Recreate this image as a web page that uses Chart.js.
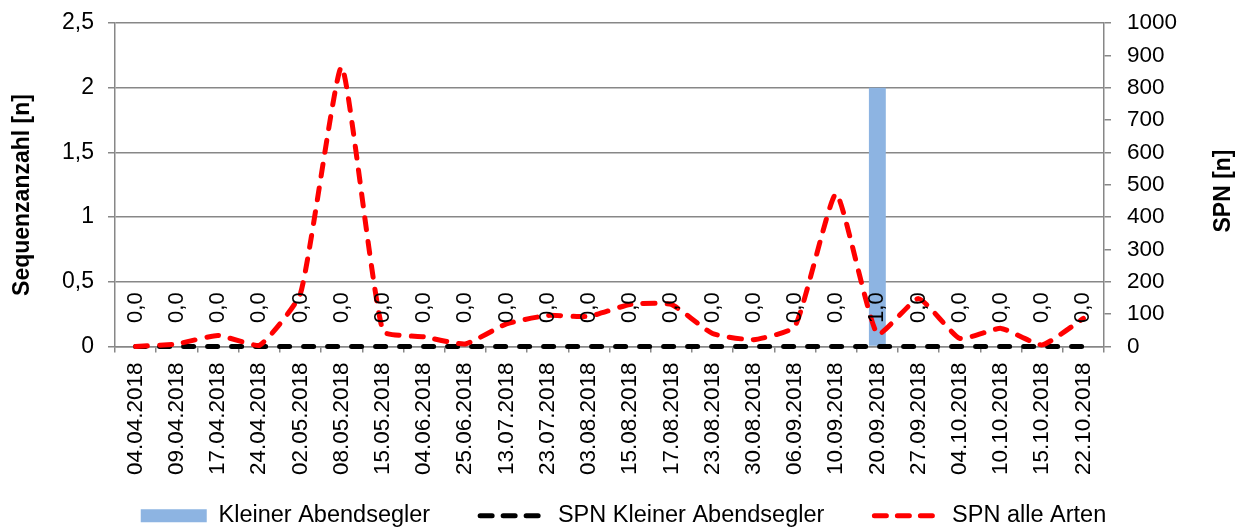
<!DOCTYPE html>
<html>
<head>
<meta charset="utf-8">
<script src="https://cdn.jsdelivr.net/npm/chart.js@4.4.1/dist/chart.umd.min.js"></script>
<style>
  html, body { margin: 0; padding: 0; background: #fff; }
  #wrap { width: 1247px; height: 529px; }
</style>
</head>
<body>
<div id="wrap"><canvas id="chart-spn" width="1247" height="529"></canvas></div>
<script>
// ---------------------------- data ----------------------------
const dates = ['04.04.2018', '09.04.2018', '17.04.2018', '24.04.2018', '02.05.2018', '08.05.2018',
    '15.05.2018', '04.06.2018', '25.06.2018', '13.07.2018', '23.07.2018', '03.08.2018',
    '15.08.2018', '17.08.2018', '23.08.2018', '30.08.2018', '06.09.2018', '10.09.2018',
    '20.09.2018', '27.09.2018', '04.10.2018', '10.10.2018', '15.10.2018', '22.10.2018'];

// Sequenzanzahl Kleiner Abendsegler (linke Achse)
const kleinerAbendsegler = [0, 0, 0, 0, 0, 0, 0, 0, 0, 0, 0, 0, 0, 0, 0, 0, 0, 0, 2, 0, 0, 0, 0, 0];
// SPN (rechte Achse)
const spnKleinerAbendsegler = [0, 0, 0, 0, 0, 0, 0, 0, 0, 0, 0, 0, 0, 0, 0, 0, 0, 0, 0, 0, 0, 0, 0, 0];
const spnAlleArten = [0, 8, 34, 3, 163, 864, 48, 30, 8, 70, 96, 93, 130, 130, 40, 21, 62, 472, 38, 148, 25, 56, 5, 87];
// Beschriftungen über der Achse
const labelValues = [0, 0, 0, 0, 0, 0, 0, 0, 0, 0, 0, 0, 0, 0, 0, 0, 0, 0, 1, 0, 0, 0, 0, 0];

const leftTicks = [0, 0.5, 1, 1.5, 2, 2.5];

const FONT = '"Liberation Sans", Arial, sans-serif';
const GRID = '#878787';

function fmtComma(v) {
    return String(v).replace('.', ',');
}

// ------------------------ plugins -----------------------------
const valueLabels = {
    id: 'valueLabels',
    afterDatasetsDraw(chart) {
        const ctx = chart.ctx;
        const x = chart.scales.x;
        const y = chart.scales.y;
        ctx.save();
        ctx.font = '22px ' + FONT;
        ctx.fillStyle = '#000';
        ctx.textAlign = 'center';
        ctx.textBaseline = 'middle';
        labelValues.forEach((v, i) => {
            ctx.save();
            ctx.translate(x.getPixelForValue(i), y.getPixelForValue(0.3));
            ctx.rotate(-Math.PI / 2);
            ctx.fillText(v.toFixed(1).replace('.', ','), 0, 0);
            ctx.restore();
        });
        ctx.restore();
    }
};

const axisTitles = {
    id: 'axisTitles',
    afterDraw(chart) {
        const ctx = chart.ctx;
        ctx.save();
        ctx.font = 'bold 23px ' + FONT;
        ctx.fillStyle = '#000';
        ctx.textAlign = 'center';
        ctx.textBaseline = 'middle';
        // links
        ctx.save();
        ctx.translate(23, 195);
        ctx.rotate(-Math.PI / 2);
        ctx.fillText('Sequenzanzahl [n]', 0, 0);
        ctx.restore();
        // rechts
        ctx.save();
        ctx.translate(1224, 191);
        ctx.rotate(-Math.PI / 2);
        ctx.fillText('SPN [n]', 0, 0);
        ctx.restore();
        ctx.restore();
    }
};

// Legende nach dem Layout etwas nach oben schieben (großer Abstand zwischen den Einträgen)
const legendShift = {
    id: 'legendShift',
    afterLayout(chart) {
        const lg = chart.legend;
        if (!lg) return;
        const d = 454 - lg.top;
        lg.top += d;
        lg.bottom += d;
    }
};

function fixWidth(w) {
    return (scale) => {
        scale.width = w;
        scale.paddingTop = 0;
        scale.paddingBottom = 0;
    };
}

// ------------------------- chart ------------------------------
var ctxSpn = document.getElementById('chart-spn').getContext('2d');
var chart_spn = new Chart(ctxSpn, {
    data: {
        labels: dates,
        datasets: [{
            type: 'line',
            label: 'SPN alle Arten',
            data: spnAlleArten,
            yAxisID: 'y1',
            borderColor: '#FF0000',
            borderWidth: 5,
            borderDash: [12, 12],
            borderCapStyle: 'round',
            pointRadius: 0,
            tension: 0.15,
            fill: false,
            clip: false,
            order: 0
        }, {
            type: 'line',
            label: 'SPN Kleiner Abendsegler',
            data: spnKleinerAbendsegler,
            yAxisID: 'y1',
            borderColor: '#000000',
            borderWidth: 5,
            borderDash: [10, 14],
            borderCapStyle: 'round',
            pointRadius: 0,
            fill: false,
            clip: false,
            order: 1
        }, {
            type: 'bar',
            label: 'Kleiner Abendsegler',
            data: kleinerAbendsegler,
            yAxisID: 'y',
            backgroundColor: '#8DB4E2',
            barPercentage: 0.41,
            categoryPercentage: 1,
            order: 2
        }]
    },
    options: {
        responsive: false,
        devicePixelRatio: 1,
        animation: { duration: 0 },
        layout: {
            padding: { top: 23, left: 0, right: 0, bottom: -35 }
        },
        plugins: {
            tooltip: { enabled: false },
            legend: {
                position: 'bottom',
                labels: {
                    usePointStyle: true,
                    pointStyleWidth: 66,
                    boxHeight: 13,
                    padding: 50,
                    color: '#000',
                    font: { family: FONT, size: 23.5 },
                    generateLabels: () => [{
                        text: 'Kleiner Abendsegler',
                        fillStyle: '#8DB4E2',
                        strokeStyle: '#8DB4E2',
                        lineWidth: 0,
                        pointStyle: 'rect',
                        fontColor: '#000',
                        hidden: false
                    }, {
                        text: 'SPN Kleiner Abendsegler',
                        fillStyle: '#000',
                        strokeStyle: '#000',
                        lineWidth: 5,
                        lineDash: [12, 11],
                        lineCap: 'round',
                        pointStyle: 'line',
                        fontColor: '#000',
                        hidden: false
                    }, {
                        text: 'SPN alle Arten',
                        fillStyle: '#FF0000',
                        strokeStyle: '#FF0000',
                        lineWidth: 5,
                        lineDash: [12, 11],
                        lineCap: 'round',
                        pointStyle: 'line',
                        fontColor: '#000',
                        hidden: false
                    }]
                }
            }
        },
        scales: {
            x: {
                offset: true,
                grid: {
                    offset: true,
                    drawOnChartArea: false,
                    tickLength: 6,
                    color: GRID,
                    lineWidth: 1.5
                },
                border: { color: GRID, width: 1.5 },
                ticks: {
                    autoSkip: false,
                    minRotation: 90,
                    maxRotation: 90,
                    padding: 10,
                    color: '#000',
                    font: { family: FONT, size: 22.5 }
                },
                afterFit: (scale) => {
                    scale.height = 134;
                    scale.paddingLeft = 0;
                    scale.paddingRight = 0;
                }
            },
            y: {
                position: 'left',
                min: 0,
                max: 2.5,
                afterBuildTicks: (scale) => { scale.ticks = leftTicks.map(v => ({ value: v })); },
                grid: {
                    color: GRID,
                    lineWidth: 1.5,
                    tickLength: 7
                },
                border: { color: GRID, width: 1.5 },
                ticks: {
                    padding: 14,
                    color: '#000',
                    font: { family: FONT, size: 23 },
                    callback: (v) => fmtComma(v)
                },
                afterFit: fixWidth(115)
            },
            y1: {
                position: 'right',
                min: 0,
                max: 1000,
                grid: {
                    drawOnChartArea: false,
                    color: GRID,
                    lineWidth: 1.5,
                    tickLength: 7
                },
                border: { color: GRID, width: 1.5 },
                ticks: {
                    stepSize: 100,
                    padding: 16,
                    color: '#000',
                    font: { family: FONT, size: 22.5 },
                    callback: (v) => String(v)
                },
                afterFit: fixWidth(143)
            }
        }
    },
    plugins: [valueLabels, axisTitles, legendShift]
});
</script>
</body>
</html>
